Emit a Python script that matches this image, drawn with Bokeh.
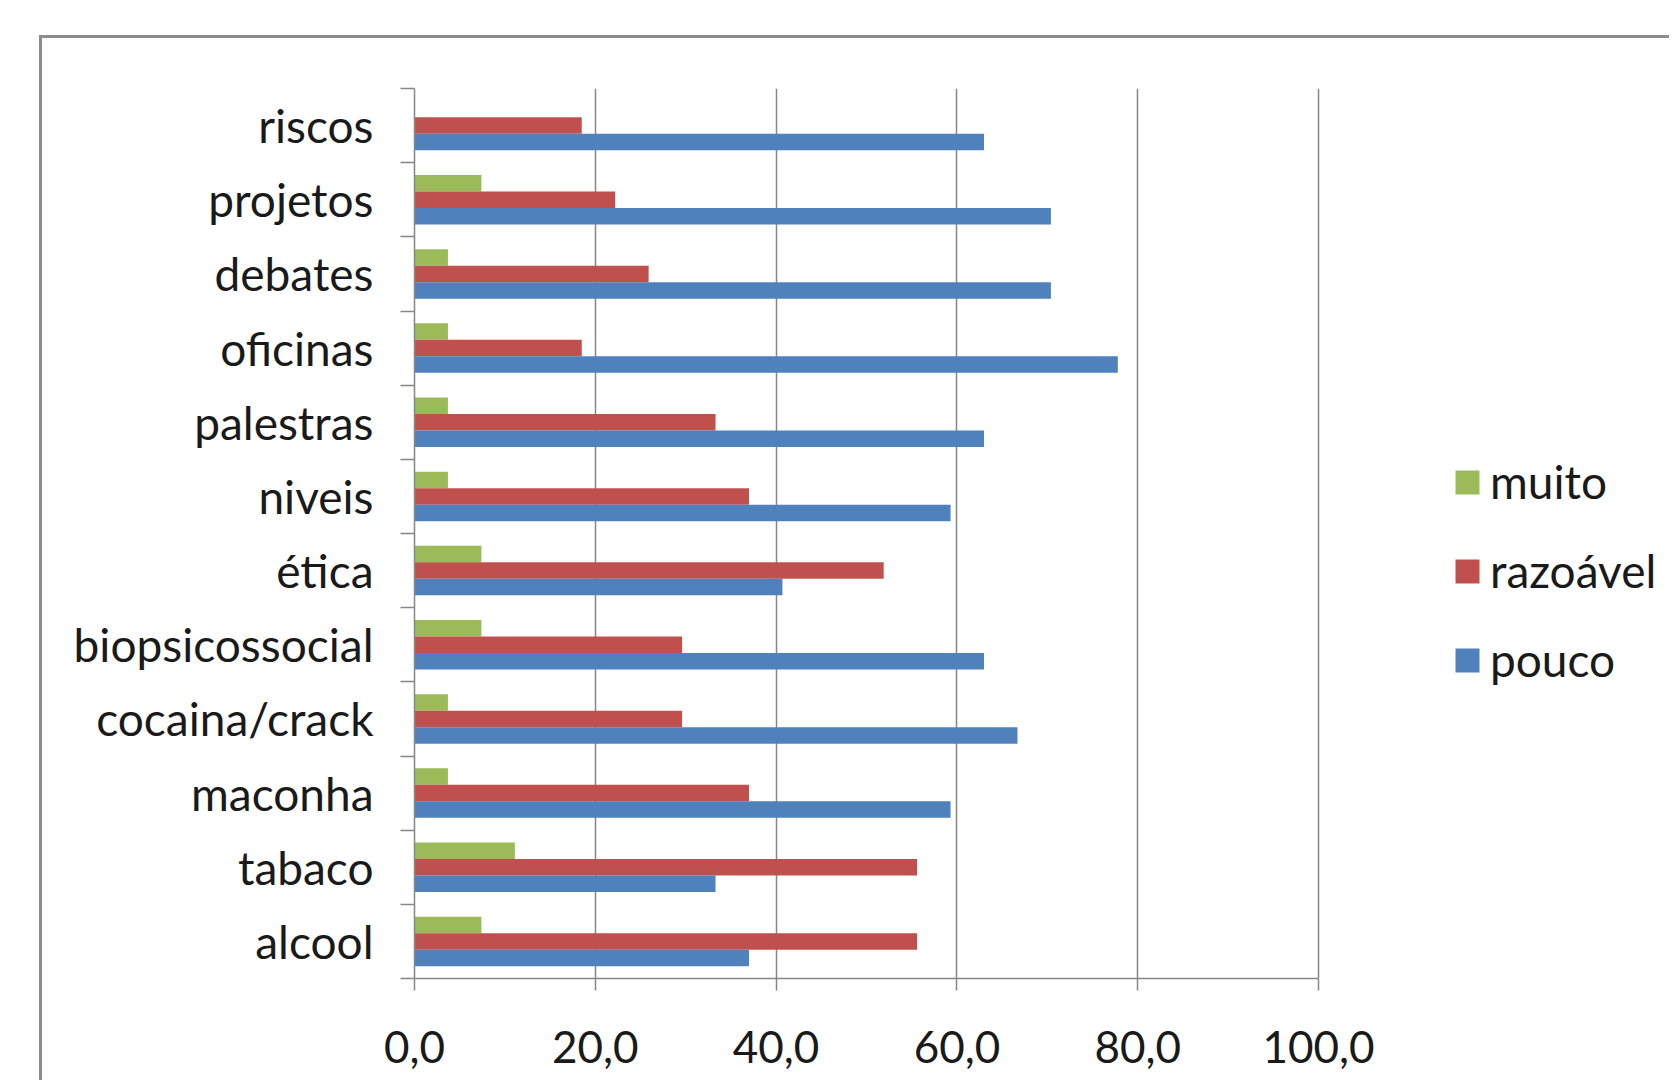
from bokeh.plotting import figure
from bokeh.models import (Range1d, FixedTicker, Legend, LegendItem, ColumnDataSource)
from bokeh.transform import dodge
from bokeh.embed import file_html
from bokeh.resources import INLINE

# ---- data (top to bottom as shown) ----
categories = ["riscos", "projetos", "debates", "oficinas", "palestras", "niveis",
              "ética", "biopsicossocial", "cocaina/crack", "maconha", "tabaco", "alcool"]
muito = [0.0, 7.4, 3.7, 3.7, 3.7, 3.7, 7.4, 7.4, 3.7, 3.7, 11.1, 7.4]
razoavel = [18.5, 22.2, 25.9, 18.5, 33.3, 37.0, 51.9, 29.6, 29.6, 37.0, 55.6, 55.6]
pouco = [63.0, 70.4, 70.4, 77.8, 63.0, 59.3, 40.7, 63.0, 66.7, 59.3, 33.3, 37.0]
x_ticks = [0, 20, 40, 60, 80, 100]
x_tick_labels = ["0,0", "20,0", "40,0", "60,0", "80,0", "100,0"]
series_names = ["muito", "razoável", "pouco"]

GREEN = "#9BBB59"
RED = "#C0504D"
BLUE = "#4F81BD"
GRAY = "#868686"
FONT = "Lato"

# ---- layout (pixels) ----
OFF_X, OFF_Y, BW = 39, 35, 3          # outer chart-area box
W, H = 1672 - OFF_X - BW, 1083 - OFF_Y - BW
FRAME_L, FRAME_R, FRAME_T, FRAME_B = 414, 1318, 88, 978   # page coords of the 0..100 area
ml = FRAME_L - OFF_X - BW
mt = FRAME_T - OFF_Y - BW
mb = (OFF_Y + BW + H) - FRAME_B
frame_w = W - ml
x_end = 100 * frame_w / (FRAME_R - FRAME_L)

n = len(categories)
ypos = [n - i - 0.5 for i in range(n)]
src = ColumnDataSource(dict(y=ypos, cat=categories, muito=muito,
                            razoavel=razoavel, pouco=pouco))

p = figure(width=W, height=H, x_range=Range1d(0, x_end), y_range=Range1d(0, n),
           output_backend="svg", toolbar_location=None,
           min_border_left=ml, min_border_right=0,
           min_border_top=mt, min_border_bottom=mb)
p.styles = {"margin-left": f"{OFF_X}px", "margin-top": f"{OFF_Y}px",
            "border-left": f"{BW}px solid #8c8c8c",
            "border-top": f"{BW}px solid #8c8c8c"}
p.outline_line_color = None
p.background_fill_color = "white"
p.border_fill_color = "white"

bh = 1.0 / 4.5
g = p.hbar(y=dodge("y", bh, range=p.y_range), right="muito", left=0, height=bh,
           source=src, fill_color=GREEN, line_color=None)
r = p.hbar(y=dodge("y", 0.0, range=p.y_range), right="razoavel", left=0, height=bh,
           source=src, fill_color=RED, line_color=None)
b = p.hbar(y=dodge("y", -bh, range=p.y_range), right="pouco", left=0, height=bh,
           source=src, fill_color=BLUE, line_color=None)

# x axis
p.xaxis.ticker = FixedTicker(ticks=x_ticks)
p.xaxis.bounds = (0, 100)
p.xaxis.major_label_overrides = {t: l for t, l in zip(x_ticks, x_tick_labels)}
p.xaxis.major_tick_out = 12
p.xaxis.major_tick_in = 0
p.xaxis.major_label_standoff = 40
p.xaxis.axis_line_color = GRAY
p.xaxis.axis_line_width = 1.5
p.xaxis.major_tick_line_color = GRAY
p.xaxis.major_tick_line_width = 1.5
p.xaxis.major_label_text_font = FONT
p.xaxis.major_label_text_font_size = "44px"
p.xaxis.major_label_text_color = "#1a1a1a"

# y axis: labels at centers, ticks at boundaries
p.yaxis.ticker = FixedTicker(ticks=ypos, minor_ticks=list(range(n + 1)))
p.yaxis.major_label_overrides = {y: c for y, c in zip(ypos, categories)}
p.yaxis.major_tick_out = 0
p.yaxis.major_tick_in = 0
p.yaxis.minor_tick_out = 14
p.yaxis.minor_tick_in = 0
p.yaxis.minor_tick_line_color = GRAY
p.yaxis.minor_tick_line_width = 1.5
p.yaxis.major_label_standoff = 27
p.yaxis.axis_line_color = GRAY
p.yaxis.axis_line_width = 1.5
p.yaxis.major_label_text_font = FONT
p.yaxis.major_label_text_font_size = "46px"
p.yaxis.major_label_text_color = "#1a1a1a"

p.ygrid.grid_line_color = None
p.xgrid.ticker = FixedTicker(ticks=x_ticks)
p.xgrid.grid_line_color = GRAY
p.xgrid.grid_line_width = 1.5

legend = Legend(items=[LegendItem(label=series_names[0], renderers=[g]),
                       LegendItem(label=series_names[1], renderers=[r]),
                       LegendItem(label=series_names[2], renderers=[b])],
                location=(1452 - FRAME_L, FRAME_B - 687),
                glyph_width=30, glyph_height=30, label_height=50,
                label_standoff=8, spacing=34, padding=0, margin=0,
                border_line_color=None, background_fill_alpha=0,
                label_text_font=FONT, label_text_font_size="46px",
                label_text_color="#1a1a1a")
p.add_layout(legend, "center")

open("out.html", "w").write(file_html(p, INLINE))
